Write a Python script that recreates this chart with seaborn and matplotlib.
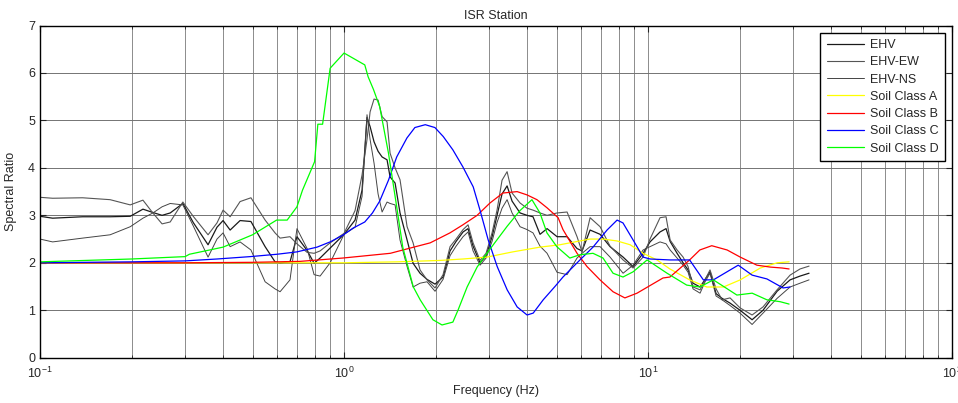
import numpy as np
import pandas as pd
import matplotlib
matplotlib.use("Agg")
import matplotlib.pyplot as plt
import seaborn as sns

# EHV curves share one frequency grid (Hz)
ehv_freq = [0.1, 0.110, 0.138, 0.170, 0.198, 0.218, 0.235, 0.252, 0.268, 0.295,
            0.319, 0.357, 0.382, 0.400, 0.422, 0.455, 0.494, 0.550, 0.593, 0.616,
            0.664, 0.700, 0.756, 0.797, 0.834, 0.900, 1.0, 1.087, 1.146, 1.190,
            1.218, 1.255, 1.294, 1.334, 1.385, 1.417, 1.472, 1.528, 1.612, 1.687,
            1.778, 1.875, 1.992, 2.117, 2.232, 2.336, 2.463, 2.558, 2.657, 2.802,
            2.932, 3.068, 3.186, 3.309, 3.438, 3.570, 3.793, 3.999, 4.184, 4.412,
            4.654, 5.020, 5.415, 5.840, 6.066, 6.447, 6.954, 7.499, 8.277, 8.926,
            9.630, 10.15, 10.95, 11.46, 11.82, 12.46, 13.04, 13.54, 14.06, 14.83,
            15.40, 15.99, 16.74, 17.52, 18.61, 20.07, 21.99, 23.89, 26.57, 29.32,
            31.62, 33.85]

ehv = [2.98, 2.94, 2.97, 2.97, 2.98, 3.13, 3.06, 3.00, 3.05, 3.25,
       2.85, 2.38, 2.75, 2.89, 2.69, 2.89, 2.87, 2.34, 2.02, 2.00,
       2.02, 2.55, 2.26, 1.99, 2.10, 2.31, 2.60, 2.90, 3.53, 5.06,
       4.87, 4.55, 4.35, 4.23, 4.17, 3.81, 3.68, 3.05, 2.48, 1.99,
       1.78, 1.65, 1.55, 1.70, 2.25, 2.45, 2.65, 2.72, 2.35, 2.00,
       2.15, 2.55, 3.00, 3.45, 3.62, 3.30, 3.05, 3.00, 2.97, 2.60,
       2.72, 2.55, 2.55, 2.30, 2.25, 2.69, 2.60, 2.34, 2.12, 1.92,
       2.20, 2.44, 2.65, 2.72, 2.45, 2.20, 2.00, 1.85, 1.57, 1.49,
       1.65, 1.81, 1.35, 1.25, 1.15, 1.00, 0.80, 1.00, 1.40, 1.64,
       1.72, 1.78]

ehv_ew = [3.38, 3.36, 3.37, 3.33, 3.22, 3.32, 3.05, 2.82, 2.86, 3.28,
          2.98, 2.59, 2.84, 3.11, 2.97, 3.29, 3.37, 2.90, 2.63, 2.52,
          2.55, 2.40, 2.22, 2.20, 2.25, 2.42, 2.62, 3.10, 3.85, 4.60,
          5.18, 5.45, 5.43, 5.08, 4.97, 4.31, 4.00, 3.75, 2.76, 2.42,
          1.85, 1.64, 1.47, 1.75, 2.34, 2.50, 2.70, 2.80, 2.42, 2.05,
          2.20, 2.63, 3.11, 3.74, 3.92, 3.47, 3.26, 3.15, 3.11, 3.05,
          3.00, 3.05, 3.07, 2.55, 2.23, 2.95, 2.76, 2.35, 2.06, 1.89,
          2.12, 2.50, 2.95, 2.97, 2.48, 2.27, 2.12, 1.92, 1.49, 1.43,
          1.64, 1.85, 1.45, 1.22, 1.26, 1.05, 0.90, 1.07, 1.43, 1.74,
          1.87, 1.93]

ehv_ns = [2.50, 2.44, 2.52, 2.59, 2.76, 2.94, 3.05, 3.18, 3.25, 3.22,
          2.78, 2.12, 2.50, 2.63, 2.34, 2.44, 2.27, 1.60, 1.45, 1.39,
          1.64, 2.72, 2.30, 1.75, 1.72, 2.00, 2.60, 2.75, 3.40, 5.12,
          4.60, 4.10, 3.45, 3.07, 3.28, 3.25, 3.22, 2.48, 1.92, 1.49,
          1.57, 1.60, 1.40, 1.65, 2.15, 2.35, 2.55, 2.65, 2.25, 1.95,
          2.10, 2.45, 2.85, 3.15, 3.33, 3.05, 2.76, 2.70, 2.63, 2.35,
          2.20, 1.80, 1.75, 2.10, 2.20, 2.34, 2.34, 2.12, 1.78, 1.95,
          2.27, 2.34, 2.44, 2.40, 2.27, 2.10, 1.95, 1.80, 1.45, 1.36,
          1.60, 1.78, 1.30, 1.22, 1.10, 0.94, 0.70, 0.94, 1.25, 1.49,
          1.57, 1.64]

# Soil class reference curves
a_freq = [0.1, 0.5, 1.0, 1.5, 2.07, 2.46, 2.95, 3.59, 4.41, 5.13, 5.53, 6.44, 7.11,
          7.91, 8.73, 9.63, 10.7, 11.8, 13.7, 15.6, 17.7, 20.1, 23.4, 26.6, 29.1]
a_val = [2.0, 2.0, 2.0, 2.02, 2.05, 2.08, 2.12, 2.23, 2.33, 2.38, 2.42, 2.5, 2.5,
         2.46, 2.38, 2.2, 2.06, 1.87, 1.64, 1.49, 1.49, 1.64, 1.89, 2.0, 2.02]

b_freq = [0.1, 0.3, 0.5, 0.717, 0.99, 1.42, 1.65, 1.92, 2.23, 2.46, 2.74, 3.02, 3.33,
          3.71, 4.0, 4.31, 4.65, 5.06, 5.25, 5.84, 6.30, 6.95, 7.67, 8.39, 9.2, 10.15,
          11.2, 11.8, 13.7, 14.8, 16.2, 18.2, 20.1, 22.8, 25.2, 27.6, 29.1]
b_val = [2.0, 2.0, 2.01, 2.03, 2.1, 2.2, 2.31, 2.42, 2.63, 2.8, 3.0, 3.26, 3.47,
         3.5, 3.43, 3.33, 3.16, 2.95, 2.7, 2.2, 1.92, 1.64, 1.39, 1.26, 1.36, 1.52,
         1.68, 1.7, 2.06, 2.27, 2.36, 2.27, 2.12, 1.95, 1.91, 1.89, 1.87]

c_freq = [0.1, 0.2, 0.3, 0.382, 0.491, 0.602, 0.70, 0.815, 0.90, 0.99, 1.07, 1.17,
          1.24, 1.31, 1.40, 1.49, 1.61, 1.71, 1.85, 1.99, 2.12, 2.28, 2.46, 2.66,
          2.80, 2.98, 3.19, 3.44, 3.71, 4.0, 4.19, 4.52, 4.94, 5.25, 5.97, 6.59,
          7.33, 7.91, 8.27, 8.93, 9.63, 10.15, 11.8, 13.7, 15.2, 16.4, 19.8, 22.0,
          24.6, 27.8, 29.3]
c_val = [2.0, 2.02, 2.04, 2.08, 2.13, 2.18, 2.23, 2.33, 2.44, 2.58, 2.73, 2.86,
         3.05, 3.3, 3.74, 4.23, 4.63, 4.85, 4.91, 4.85, 4.66, 4.38, 4.02, 3.6,
         3.11, 2.48, 1.92, 1.43, 1.07, 0.9, 0.94, 1.22, 1.5, 1.7, 2.06, 2.33,
         2.69, 2.9, 2.84, 2.48, 2.12, 2.08, 2.06, 2.06, 1.64, 1.64, 1.95, 1.74,
         1.66, 1.47, 1.49]

d_freq = [0.1, 0.2, 0.3, 0.31, 0.4, 0.5, 0.6, 0.65, 0.7, 0.73, 0.8, 0.82, 0.85, 0.9,
          1.0, 1.17, 1.2, 1.25, 1.31, 1.4, 1.49, 1.56, 1.69, 1.78, 1.96, 2.1, 2.28,
          2.37, 2.54, 2.74, 2.95, 3.44, 3.79, 4.15, 4.41, 4.65, 5.01, 5.53, 5.97,
          6.59, 7.11, 7.67, 8.27, 8.93, 9.93, 11.55, 13.4, 14.8, 16.4, 19.6, 22.0,
          24.6, 27.2, 29.1]
d_val = [2.02, 2.08, 2.13, 2.18, 2.33, 2.59, 2.9, 2.9, 3.18, 3.53, 4.13, 4.92, 4.92,
         6.1, 6.42, 6.17, 5.92, 5.65, 5.29, 4.31, 3.18, 2.33, 1.49, 1.22, 0.8, 0.69,
         0.75, 1.0, 1.49, 1.91, 2.2, 2.77, 3.1, 3.33, 3.05, 2.63, 2.34, 2.1, 2.17,
         2.2, 2.1, 1.78, 1.7, 1.81, 2.06, 1.78, 1.53, 1.49, 1.64, 1.32, 1.36, 1.22,
         1.18, 1.13]

sns.set_style("ticks")
plt.rcParams['font.family'] = ['Liberation Sans', 'DejaVu Sans']
plt.rcParams['font.size'] = 9

fig = plt.figure(figsize=(9.58, 4.03), dpi=100)
ax = fig.add_axes([0.0418, 0.1124, 0.9520, 0.8243])

series = [
    (ehv_freq, ehv, "EHV", "#1a1a1a", 0.9),
    (ehv_freq, ehv_ew, "EHV-EW", "#555555", 0.8),
    (ehv_freq, ehv_ns, "EHV-NS", "#444444", 0.7),
    (a_freq, a_val, "Soil Class A", "#ffff00", 0.9),
    (b_freq, b_val, "Soil Class B", "#ff0000", 0.9),
    (c_freq, c_val, "Soil Class C", "#0000ff", 0.9),
    (d_freq, d_val, "Soil Class D", "#00ff00", 0.9),
]
for fx, fy, name, col, lw in series:
    sns.lineplot(x=fx, y=fy, ax=ax, color=col, linewidth=lw, label=name,
                 estimator=None, sort=False)

ax.set_xscale("log")
ax.set_xlim(0.1, 100)
ax.set_ylim(0, 7)
ax.set_yticks(range(0, 8))
ax.grid(True, which="both", axis="x", color="0.55", linewidth=0.7)
ax.grid(True, which="major", axis="y", color="0.45", linewidth=0.7)
ax.tick_params(which="both", direction="in", top=True, right=True, labelsize=9)
ax.tick_params(which="major", length=4)
ax.tick_params(which="minor", length=2)
ax.tick_params(axis="x", which="major", pad=6)
for s in ax.spines.values():
    s.set_linewidth(1.0)
    s.set_color("black")

ax.set_title("ISR Station", fontsize=9, pad=5)
ax.set_xlabel("Frequency (Hz)", fontsize=9, labelpad=3)
ax.set_ylabel("Spectral Ratio", fontsize=9, labelpad=8)

leg = ax.legend(loc="upper right", bbox_to_anchor=(0.9925, 0.978), fontsize=9,
                frameon=True, fancybox=False, handlelength=3.0, handletextpad=0.5,
                borderpad=0.5, labelspacing=0.42, borderaxespad=0)
leg.get_frame().set_edgecolor("black")
leg.get_frame().set_linewidth(1.0)
leg.get_frame().set_alpha(1)

fig.savefig("out.png", dpi=100)
